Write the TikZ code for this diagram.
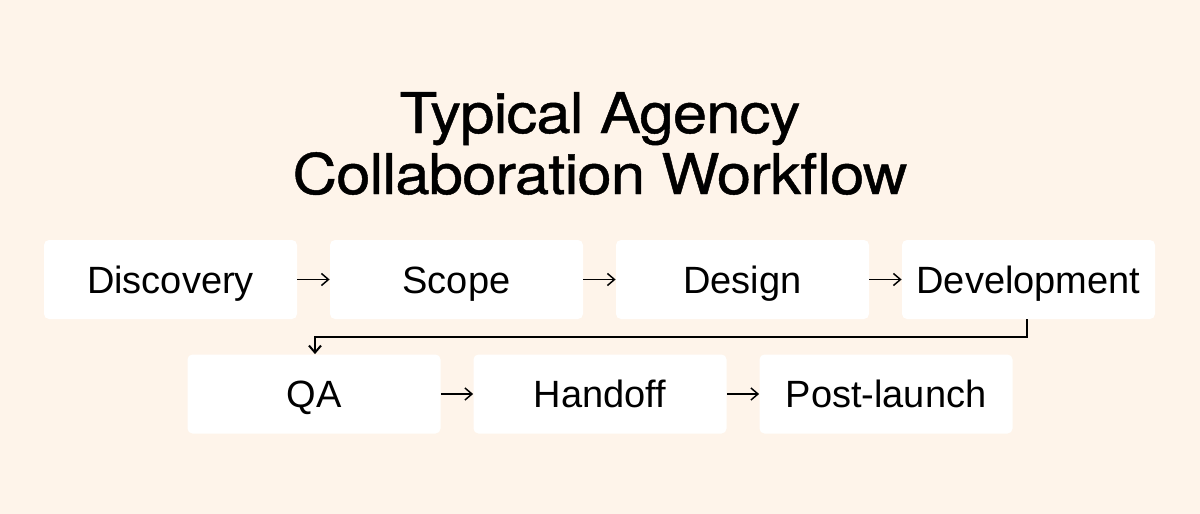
\documentclass[tikz,border=0pt]{standalone}
\usepackage{fontspec}
\setmainfont{Liberation Sans}
\newfontfamily\titlefont[LetterSpace=-1.5,FakeStretch=1.1,FakeBold=0.8]{TeX Gyre Heros}
\usetikzlibrary{arrows.meta}
\definecolor{bgpeach}{HTML}{FEF4EA}
\begin{document}
\begin{tikzpicture}[x=0.5pt,y=-0.5pt,
  stepbox/.style={fill=white,rounded corners=2.5pt,minimum width=126.5pt,minimum height=39.5pt,inner sep=0pt,text height=13.6pt,text depth=0pt,font=\fontsize{19}{22}\selectfont},
  titletext/.style={anchor=base,inner sep=0pt,font=\titlefont\fontsize{28}{31}\selectfont},
  flow/.style={line width=0.75pt,-{Straight Barb[length=3.5pt,width=6pt]}},
  link/.style={line width=1pt,-{Straight Barb[length=3.5pt,width=6pt]}}]
\fill[bgpeach] (0,0) rectangle (1200,514);
\useasboundingbox (0,0) rectangle (1200,514);
\node[titletext] (t1) at (600,133) {Typical Agency};
\node[titletext] (t2) at (600,194) {Collaboration Workflow};
\node[stepbox] (dis) at (170.5,279.5) {Discovery};
\node[stepbox] (sco) at (456.5,279.5) {Scope};
\node[stepbox] (des) at (742.5,279.5) {Design};
\node[stepbox] (dev) at (1028.5,279.5) {Development};
\node[stepbox] (qa) at (314,394) {QA};
\node[stepbox] (han) at (600,394) {Handoff};
\node[stepbox] (pos) at (886,394) {Post-launch};
\draw[flow] (dis) -- (sco);
\draw[flow] (sco) -- (des);
\draw[flow] (des) -- (dev);
\draw[flow] (qa) -- (han);
\draw[flow] (han) -- (pos);
\coordinate (c1) at (1027,337);
\coordinate (c2) at (315,337);
\draw[link] (dev.south -| c1) -- (c1) -- (c2) -- (c2 |- qa.north);
\end{tikzpicture}
\end{document}
